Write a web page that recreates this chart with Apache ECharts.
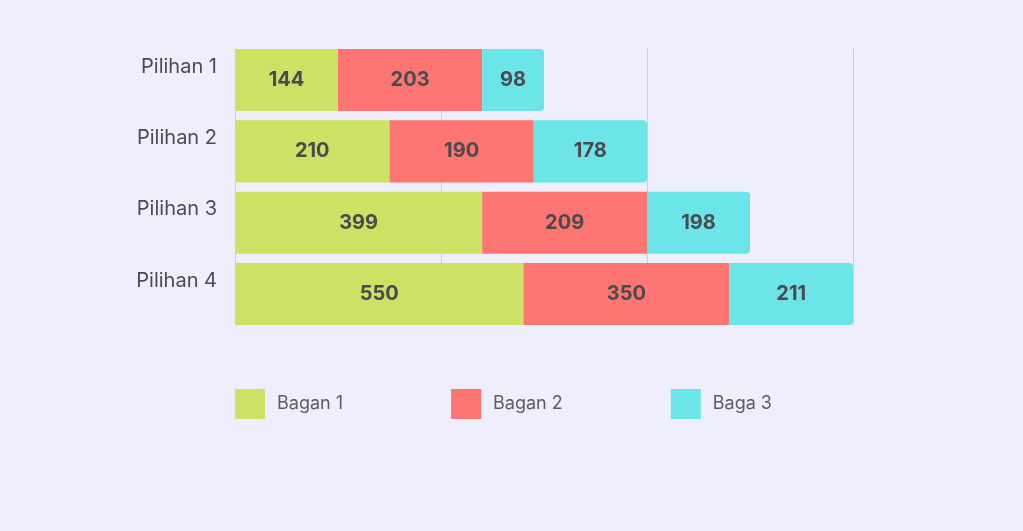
<!DOCTYPE html>
<html>
<head>
<meta charset="utf-8">
<script src="https://cdn.jsdelivr.net/npm/echarts@6/dist/echarts.min.js"></script>
<style>
html,body{margin:0;padding:0;background:#EFEEFC;}
#c{width:1023px;height:531px;}
</style>
</head>
<body>
<div id="c"></div>
<script>
var categories = ['Pilihan 1', 'Pilihan 2', 'Pilihan 3', 'Pilihan 4'];
var seriesNames = ['Bagan 1', 'Bagan 2', 'Baga 3'];
// bar lengths as drawn (axis units, grid line every 100)
var bagan1 = [50, 75, 120, 140];
var bagan2 = [70, 70, 80, 100];
var baga3 = [30, 55, 50, 60];
// numbers printed on the bars
var bagan1Labels = [144, 210, 399, 550];
var bagan2Labels = [203, 190, 209, 350];
var baga3Labels = [98, 178, 198, 211];
var xTicks = [0, 100, 200, 300];

var colors = ['#CDE264', '#FF7571', '#6BE5E8'];
var lengths = [bagan1, bagan2, baga3];
var labels = [bagan1Labels, bagan2Labels, baga3Labels];

var chart = echarts.init(document.getElementById('c'));
var series = seriesNames.map(function (name, i) {
  return {
    name: name,
    type: 'bar',
    stack: 'total',
    xAxisIndex: 0,
    yAxisIndex: 0,
    barCategoryGap: '13%',
    data: lengths[i],
    itemStyle: {
      color: colors[i],
      borderRadius: i === 2 ? [0, 4, 4, 0] : 0
    },
    label: {
      show: true,
      position: 'inside',
      fontFamily: 'Inter',
      fontSize: 20,
      fontWeight: 'bold',
      color: '#4a4a4f',
      formatter: function (p) { return labels[i][p.dataIndex]; }
    }
  };
});

var xBase = {
  type: 'value',
  min: xTicks[0],
  max: xTicks[xTicks.length - 1],
  interval: xTicks[1] - xTicks[0],
  axisLabel: { show: false },
  axisLine: { show: false },
  axisTick: { show: false }
};

chart.setOption({
  backgroundColor: '#EFEEFC',
  animation: false,
  textStyle: { fontFamily: 'Inter' },
  grid: [
    { left: 235, right: 170, top: 44.4, bottom: 201.3 },
    { left: 235, right: 170, top: 48.5, bottom: 206 }
  ],
  xAxis: [
    Object.assign({}, xBase, { gridIndex: 0, splitLine: { show: false } }),
    Object.assign({}, xBase, { gridIndex: 1, splitLine: { show: true, lineStyle: { color: '#CFCEDD', width: 1 } } })
  ],
  yAxis: [
    {
      type: 'category',
      gridIndex: 0,
      inverse: true,
      data: categories,
      axisLine: { show: false },
      axisTick: { show: false },
      axisLabel: {
        margin: 18,
        formatter: function (v) { return '{a|' + v + '}'; },
        rich: {
          a: {
            fontFamily: 'Inter',
            fontSize: 20,
            color: '#4b4b55',
            padding: [0, 0, 27, 0]
          }
        }
      }
    },
    {
      type: 'category',
      gridIndex: 1,
      data: categories,
      axisLine: { show: false },
      axisTick: { show: false },
      axisLabel: { show: false }
    }
  ],
  legend: {
    left: 235,
    top: 389,
    padding: 0,
    icon: 'rect',
    itemWidth: 30,
    itemHeight: 30,
    itemGap: 108,
    data: seriesNames,
    textStyle: {
      fontFamily: 'Inter',
      fontSize: 18,
      color: '#5b5b6b',
      padding: [2, 0, 0, 7]
    }
  },
  series: series
});
</script>
</body>
</html>
